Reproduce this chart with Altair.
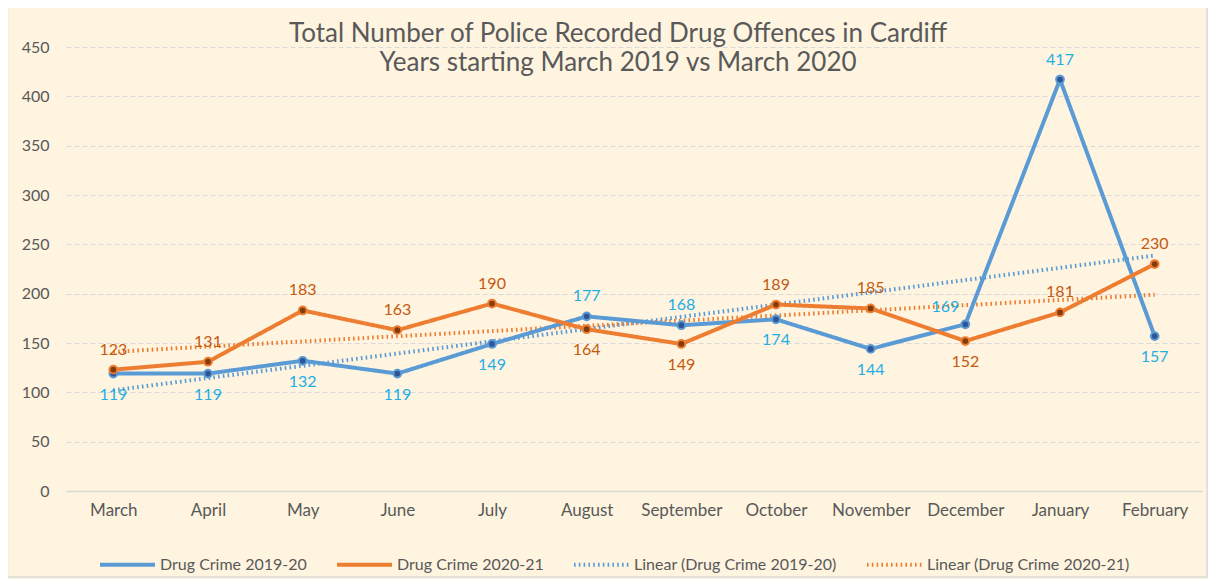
import altair as alt
import pandas as pd

months = ["March", "April", "May", "June", "July", "August", "September",
          "October", "November", "December", "January", "February"]
series_names = ["Drug Crime 2019-20", "Drug Crime 2020-21"]
values_1920 = [119, 119, 132, 119, 149, 177, 168, 174, 144, 169, 417, 157]
values_2021 = [123, 131, 183, 163, 190, 164, 149, 189, 185, 152, 181, 230]
# label placement relative to point
place_1920 = ["below", "below", "below", "below", "below", "above", "above",
              "below", "below", "left", "above", "below"]
place_2021 = ["above", "above", "above", "above", "above", "below", "below",
              "above", "above", "below", "above", "above"]
title_lines = ["Total Number of Police Recorded Drug Offences in Cardiff",
               "Years starting March 2019 vs March 2020"]

trend_names = ["Linear (" + s + ")" for s in series_names]
legend_domain = [series_names[0], series_names[1], trend_names[0], trend_names[1]]

rows = []
for vals, places, name in [(values_1920, place_1920, series_names[0]),
                           (values_2021, place_2021, series_names[1])]:
    for i, (m, v, p) in enumerate(zip(months, vals, places)):
        rows.append({"idx": i + 1, "month": m, "value": v, "series": name, "place": p})
df = pd.DataFrame(rows)

BLUE = "#5B9BD5"
ORANGE = "#ED7D31"
DARK_BLUE = "#2F5597"
DARK_ORANGE = "#843C0C"
LBL_BLUE = "#1FAEE6"
LBL_ORANGE = "#C55A11"
FONT = "Lato"
GREY = "#595959"

W, H = 1136, 444

month_expr = "[" + ",".join("'" + m + "'" for m in months) + "][datum.value - 1]"

x_enc = alt.X("idx:Q", scale=alt.Scale(domain=[0.5, 12.5], nice=False, zero=False),
              axis=alt.Axis(values=list(range(1, 13)), labelExpr=month_expr, title=None,
                            grid=False, ticks=False, domain=True, domainColor="#D9D9D9",
                            domainWidth=1.5, labelColor=GREY, labelFont=FONT,
                            labelFontSize=17, labelPadding=11))
y_enc = alt.Y("value:Q", scale=alt.Scale(domain=[0, 450], nice=False),
              axis=alt.Axis(values=list(range(0, 451, 50)), title=None, grid=True,
                            gridColor="#D9D9D9", gridDash=[5, 3], gridWidth=1.2,
                            ticks=False, domain=False, labelColor=GREY, labelFont=FONT,
                            labelFontSize=16, labelPadding=17))

color_scale = alt.Scale(domain=legend_domain, range=[BLUE, ORANGE, BLUE, ORANGE])
dash_scale = alt.Scale(domain=legend_domain, range=[[1, 0], [1, 0], [1.6, 3.2], [1.6, 3.2]])
width_scale = alt.Scale(domain=legend_domain, range=[4, 4, 1.8, 1.8])

legend = alt.Legend(title=None, orient="none", legendX=32, legendY=488,
                    direction="horizontal", symbolType="stroke", symbolSize=3025,
                    labelFont=FONT, labelFontSize=16, labelColor=GREY, labelLimit=400,
                    columnPadding=22, labelOffset=3)

base = alt.Chart(df)

lines = base.mark_line().encode(
    x=x_enc, y=y_enc,
    color=alt.Color("series:N", scale=color_scale, legend=legend),
    strokeDash=alt.StrokeDash("series:N", scale=dash_scale, legend=legend),
    strokeWidth=alt.StrokeWidth("series:N", scale=width_scale, legend=legend),
    detail="series:N",
)

trend = base.transform_regression(
    "idx", "value", groupby=["series"], extent=[1, 12]
).transform_calculate(
    series="'Linear (' + datum.series + ')'"
).mark_line(strokeCap="butt").encode(
    x="idx:Q", y="value:Q",
    color=alt.Color("series:N", scale=color_scale, legend=legend),
    strokeDash=alt.StrokeDash("series:N", scale=dash_scale, legend=legend),
    strokeWidth=alt.StrokeWidth("series:N", scale=width_scale, legend=legend),
)

points = base.mark_point(filled=False, size=60, strokeWidth=2, opacity=1).encode(
    x="idx:Q", y="value:Q",
    fill=alt.Fill("series:N", scale=alt.Scale(domain=series_names, range=[DARK_BLUE, DARK_ORANGE]), legend=None),
    stroke=alt.Stroke("series:N", scale=alt.Scale(domain=series_names, range=[BLUE, ORANGE]), legend=None),
)

label_layers = []
for name, col in [(series_names[0], LBL_BLUE), (series_names[1], LBL_ORANGE)]:
    for place, kw in [("above", dict(dy=-20, align="center")),
                      ("below", dict(dy=21, align="center")),
                      ("left", dict(dy=-17, dx=-6, align="right"))]:
        label_layers.append(
            base.transform_filter(
                (alt.datum.series == name) & (alt.datum.place == place)
            ).mark_text(font=FONT, fontSize=16, color=col, baseline="middle", **kw).encode(
                x="idx:Q", y="value:Q", text="value:Q"
            )
        )

one = alt.Chart(pd.DataFrame({"a": [0]}))
border = one.mark_rect(fill=None, stroke="#D9D9D9", strokeWidth=1.5).encode(
    x=alt.value(-58.5), x2=alt.value(W + 5), y=alt.value(-40), y2=alt.value(H + 86))
title1 = one.mark_text(font=FONT, fontSize=26, color=GREY, baseline="middle").encode(
    x=alt.value(552), y=alt.value(-13), text=alt.value(title_lines[0]))
title2 = one.mark_text(font=FONT, fontSize=26, color=GREY, baseline="middle").encode(
    x=alt.value(552), y=alt.value(16), text=alt.value(title_lines[1]))

chart = alt.layer(border, trend, lines, points, *label_layers, title1, title2).properties(
    width=W, height=H,
    padding={"left": 58, "top": 39, "right": 6, "bottom": 88},
    autosize=alt.AutoSizeParams(type="none"),
    background="#FEF4DF",
).configure_view(stroke=None)

chart.save("out.html", embed_options={"renderer": "svg", "actions": False})
